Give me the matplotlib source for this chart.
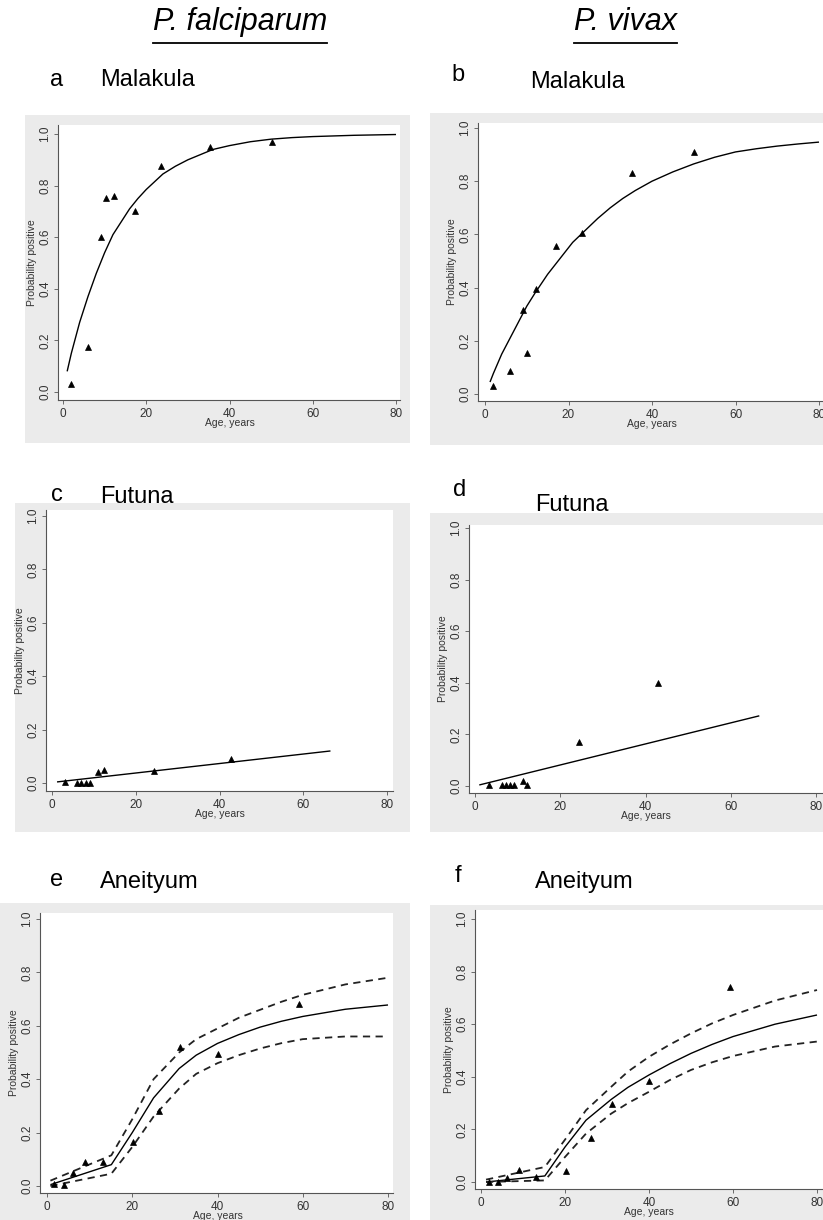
import matplotlib
matplotlib.use('Agg')
import matplotlib.pyplot as plt
from matplotlib.patches import Rectangle
from matplotlib.lines import Line2D

# ---------------- data ----------------
a_age = [2.0, 6.0, 9.2, 10.3, 12.3, 17.2, 23.5, 35.4, 50.3]
a_prev = [0.03, 0.175, 0.60, 0.75, 0.76, 0.70, 0.875, 0.95, 0.968]
a_fit_age = [1, 2, 4, 6, 8, 10, 12, 14, 16, 18, 20, 22, 24, 27, 30, 33, 36, 40,
             45, 50, 55, 60, 70, 80]
a_fit = [0.08, 0.15, 0.27, 0.37, 0.46, 0.54, 0.61, 0.66, 0.71, 0.75, 0.785, 0.815,
         0.845, 0.875, 0.90, 0.92, 0.94, 0.955, 0.97, 0.98, 0.986, 0.99, 0.995, 0.998]

b_age = [2.0, 6.0, 9.2, 10.0, 12.1, 17.1, 23.3, 35.2, 50.1]
b_prev = [0.03, 0.088, 0.314, 0.154, 0.394, 0.557, 0.605, 0.83, 0.91]
b_fit_age = [1.2, 2, 4, 6, 8, 10, 12, 15, 18, 21, 24, 27, 30, 33, 36, 40, 45, 50,
             55, 60, 65, 70, 75, 80]
b_fit = [0.045, 0.077, 0.15, 0.21, 0.27, 0.33, 0.38, 0.45, 0.51, 0.57, 0.615, 0.66,
         0.70, 0.735, 0.765, 0.80, 0.835, 0.865, 0.89, 0.91, 0.922, 0.932, 0.94, 0.947]

c_age = [3.2, 6.0, 7.0, 8.0, 9.0, 11.1, 12.3, 24.4, 42.8]
c_prev = [0.004, 0.0, 0.0, 0.0, 0.0, 0.041, 0.047, 0.045, 0.091]
c_fit_age = [1.2, 66.5]
c_fit = [0.004, 0.12]

d_age = [3.3, 6.3, 7.3, 8.2, 9.2, 11.3, 12.3, 24.4, 43.0]
d_prev = [0.004, 0.004, 0.004, 0.004, 0.004, 0.02, 0.004, 0.172, 0.40]
d_fit_age = [1.0, 66.7]
d_fit = [0.004, 0.272]

e_age = [1.6, 4.1, 6.1, 9.0, 13.1, 20.1, 26.2, 31.2, 40.2, 59.2]
e_prev = [0.009, 0.003, 0.049, 0.09, 0.09, 0.163, 0.28, 0.52, 0.494, 0.68]
e_fit_age = [0.8, 15.1, 20, 25, 31, 35, 40, 45, 50, 55, 60, 70, 80]
e_fit = [0.005, 0.08, 0.20, 0.33, 0.44, 0.49, 0.534, 0.567, 0.595, 0.617, 0.635, 0.662, 0.678]
e_upper = [0.02, 0.115, 0.25, 0.40, 0.50, 0.55, 0.59, 0.63, 0.66, 0.69, 0.716, 0.755, 0.78]
e_lower = [0.0, 0.046, 0.146, 0.26, 0.365, 0.42, 0.46, 0.49, 0.515, 0.535, 0.55, 0.56, 0.56]

f_age = [2.0, 4.1, 6.1, 9.1, 13.2, 20.2, 26.2, 31.1, 40.0, 59.2]
f_prev = [0.0, 0.0, 0.017, 0.047, 0.019, 0.042, 0.168, 0.296, 0.384, 0.74]
f_fit_age = [1.2, 15.2, 20, 25, 31, 35, 40, 45, 50, 55, 60, 70, 80]
f_fit = [0.0, 0.023, 0.133, 0.235, 0.314, 0.36, 0.407, 0.45, 0.489, 0.523, 0.553, 0.60, 0.635]
f_upper = [0.009, 0.057, 0.161, 0.273, 0.362, 0.42, 0.476, 0.523, 0.565, 0.603, 0.635, 0.69, 0.73]
f_lower = [0.0, 0.006, 0.095, 0.184, 0.26, 0.30, 0.343, 0.388, 0.426, 0.455, 0.479, 0.515, 0.534]

x_ticks = [0, 20, 40, 60, 80]
y_ticks = [0.0, 0.2, 0.4, 0.6, 0.8, 1.0]
y_ticklabels = ['0.0', '0.2', '0.4', '0.6', '0.8', '1.0']
species = ['P. falciparum', 'P. vivax']
letters = ['a', 'b', 'c', 'd', 'e', 'f']
sites = ['Malakula', 'Malakula', 'Futuna', 'Futuna', 'Aneityum', 'Aneityum']
xlabel = 'Age, years'
ylabel = 'Probability positive'

# ---------------- layout ----------------
W, H = 823, 1220
fig = plt.figure(figsize=(W / 100, H / 100), dpi=100)
fig.patch.set_facecolor('white')

def fx(x):
    return x / W

def fy(y):
    return 1 - y / H

SANS = ['Liberation Sans', 'DejaVu Sans']
NARROW = ['Liberation Sans Narrow', 'Liberation Sans', 'DejaVu Sans']

# panel geometry in pixels: grey box, axes box, data->pixel anchors
layout = [
    dict(grey=(25, 115, 410, 443), left=58, right=400, top=125, bottom=400,
         x0=63, x80=396, y0=392, y1=134, letter=(57, 80), site=(100, 80)),
    dict(grey=(430, 113, 823, 445), left=478, right=823, top=123, bottom=401,
         x0=485, x80=819, y0=394, y1=128, letter=(458, 75), site=(530, 82)),
    dict(grey=(15, 503, 410, 832), left=46, right=393, top=510, bottom=791,
         x0=52, x80=387, y0=783, y1=516, letter=(57, 495), site=(100, 497)),
    dict(grey=(430, 513, 823, 832), left=469, right=823, top=525, bottom=793,
         x0=475, x80=816, y0=786, y1=528, letter=(460, 490), site=(535, 505)),
    dict(grey=(0, 903, 410, 1220), left=40, right=393, top=913, bottom=1193,
         x0=47, x80=388, y0=1186, y1=919, letter=(57, 880), site=(100, 882)),
    dict(grey=(430, 905, 823, 1220), left=475, right=823, top=910, bottom=1189,
         x0=481, x80=817, y0=1182, y1=919, letter=(458, 876), site=(535, 882)),
]

series = [
    (a_age, a_prev, a_fit_age, a_fit, None, None),
    (b_age, b_prev, b_fit_age, b_fit, None, None),
    (c_age, c_prev, c_fit_age, c_fit, None, None),
    (d_age, d_prev, d_fit_age, d_fit, None, None),
    (e_age, e_prev, e_fit_age, e_fit, e_upper, e_lower),
    (f_age, f_prev, f_fit_age, f_fit, f_upper, f_lower),
]

for i, (L, S) in enumerate(zip(layout, series)):
    gx0, gy0, gx1, gy1 = L['grey']
    fig.add_artist(Rectangle((fx(gx0), fy(gy1)), (gx1 - gx0) / W, (gy1 - gy0) / H,
                             transform=fig.transFigure, facecolor='#ebebeb',
                             edgecolor='none', zorder=0))
    left, right, top, bottom = L['left'], L['right'], L['top'], L['bottom']
    ax = fig.add_axes([fx(left), fy(bottom), (right - left) / W, (bottom - top) / H])
    ax.set_facecolor('white')
    sx = (L['x80'] - L['x0']) / 80.0
    sy = (L['y0'] - L['y1'])
    ax.set_xlim((left - L['x0']) / sx, (right - L['x0']) / sx)
    ax.set_ylim(-(bottom - L['y0']) / sy, (L['y0'] - top) / sy)

    age, prev, fage, fit, up, lo = S
    ax.plot(fage, fit, color='black', lw=1.0, solid_capstyle='butt')
    if up is not None:
        ax.plot(fage, up, color='#222222', lw=1.3, linestyle=(0, (4, 3)))
        ax.plot(fage, lo, color='#222222', lw=1.3, linestyle=(0, (4, 3)))
    ax.plot(age, prev, linestyle='none', marker='^', markersize=4.5,
            color='black', markeredgewidth=0.5)

    for s in ['top', 'right']:
        ax.spines[s].set_visible(False)
    for s in ['left', 'bottom']:
        ax.spines[s].set_color('#555555')
        ax.spines[s].set_linewidth(0.8)
    ax.set_xticks(x_ticks)
    ax.set_yticks(y_ticks)
    ax.set_yticklabels(y_ticklabels)
    ax.tick_params(axis='both', direction='out', length=3, width=0.6,
                   colors='#555555', labelcolor='#333333', labelsize=8.5)
    ax.tick_params(axis='x', pad=2.5)
    ax.tick_params(axis='y', pad=2, labelrotation=90)
    for lab in ax.get_yticklabels():
        lab.set_va('center')
        lab.set_fontfamily(SANS)
    for lab in ax.get_xticklabels():
        lab.set_fontfamily(SANS)

    ax.set_ylabel(ylabel, fontsize=7.5, color='#333333', family=SANS)
    ax.yaxis.set_label_coords(-(21.0) / (right - left), 0.5)
    ax.set_xlabel(xlabel, fontsize=7.5, color='#333333', family=SANS)
    x40 = (L['x0'] + L['x80']) / 2.0
    ax.xaxis.set_label_coords((x40 - left) / (right - left), -18.0 / (bottom - top))

    lx, ly = L['letter']
    fig.text(fx(lx), fy(ly), letters[i], fontsize=17, family=NARROW,
             ha='center', va='center')
    sxp, syp = L['site']
    fig.text(fx(sxp), fy(syp), sites[i], fontsize=17, family=SANS,
             ha='left', va='center')

# species headers with underline
titles = []
for name, cx in zip(species, [240, 625]):
    t = fig.text(fx(cx), fy(22), name, fontsize=22, style='italic', family=SANS,
                 ha='center', va='center')
    titles.append(t)

fig.canvas.draw()
renderer = fig.canvas.get_renderer()
for t in titles:
    bb = t.get_window_extent(renderer)
    yline = fy(43)
    fig.add_artist(Line2D([bb.x0 / W, bb.x1 / W], [yline, yline],
                          transform=fig.transFigure, color='black', lw=1.3))

fig.savefig('out.png', dpi=100, facecolor='white')
